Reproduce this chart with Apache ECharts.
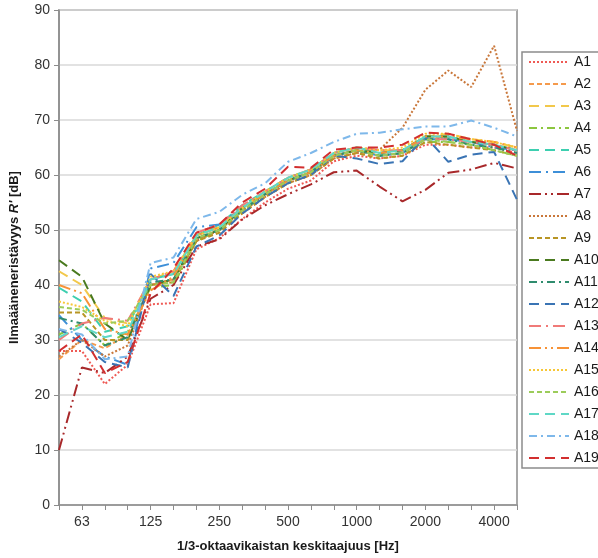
<!DOCTYPE html>
<html>
<head>
<meta charset="utf-8">
<script src="https://cdn.jsdelivr.net/npm/echarts@6/dist/echarts.min.js"></script>
<style>
  html, body { margin: 0; padding: 0; background: #fff; }
  #chart { width: 598px; height: 558px; }
</style>
</head>
<body>
<div id="chart"></div>
<script>
// 1/3-octave band centre frequencies [Hz]
const bands = ['50', '63', '80', '100', '125', '160', '200', '250', '315', '400', '500',
  '630', '800', '1000', '1250', '1600', '2000', '2500', '3150', '4000', '5000'];

// R' [dB] per measurement
const A1 = [28, 28, 22, 25.5, 36.5, 36.7, 46.5, 48.5, 52, 55, 57.5, 59, 62.5, 63.5, 63, 63.5, 65.5, 65.5, 65, 65, 64];
const A2 = [26.5, 30, 28.5, 31, 40, 41, 48, 50, 53, 56, 58.5, 60, 63, 64, 63.5, 64, 66.5, 67, 66, 65.5, 64.5];
const A3 = [42.5, 40, 34, 33, 41, 42.5, 49, 50.5, 54, 57, 59.5, 61, 64, 65, 64.5, 64.5, 67, 67.5, 66.5, 66, 65];
const A4 = [31, 33, 29, 31.5, 39.5, 40, 48, 50, 53.5, 56.5, 59, 60.5, 63.5, 64.5, 63.5, 64, 66, 66, 65.5, 64.5, 63.5];
const A5 = [39.5, 37, 31.5, 32.5, 41, 42, 49, 51, 54.5, 57, 59.5, 61, 64, 65, 64, 64.5, 67, 67, 66, 65.5, 64.5];
const A6 = [34.5, 30, 27, 25.5, 43, 44, 50.5, 51, 54, 56.5, 59, 60.5, 63.5, 64.5, 63.5, 64, 66.5, 66.5, 66, 65, 64.5];
const A7 = [10, 25, 24, 27, 37.5, 40, 47, 48.3, 51.9, 54.5, 56.5, 58.3, 60.5, 60.8, 57.9, 55.2, 57.3, 60.4, 61, 62.2, 61.2];
const A8 = [27, 30, 27, 29, 40, 41, 48, 50, 53.5, 56, 58.5, 60, 63, 64, 64.6, 68.6, 75.5, 79, 76, 83.5, 68];
const A9 = [35, 35, 30, 30, 40, 40.5, 48, 49.5, 53, 56, 58.5, 60, 63, 64, 63, 63.5, 66, 65.5, 65, 64.5, 63.5];
const A10 = [44.5, 41.5, 33, 30, 40, 41, 48.5, 50, 54, 56.5, 59, 60.5, 63.5, 64.5, 64, 64.5, 67, 67, 66, 65.5, 64.5];
const A11 = [34, 33, 29, 30.5, 40.5, 41, 48.5, 50, 53.5, 56.5, 59, 60.5, 63.5, 64.5, 63.5, 64, 66.5, 66.5, 65.5, 65, 64];
const A12 = [32, 29.5, 26, 25, 42, 38, 47, 49, 53, 56, 58.5, 60, 63.5, 63, 62, 62.5, 67, 62.4, 63.7, 64.2, 55.5];
const A13 = [30, 33, 34, 33.5, 41, 42.5, 49.5, 51, 54.5, 57, 59.5, 61, 64, 65, 64.5, 64.5, 66.5, 66.5, 66, 65.5, 64.5];
const A14 = [40, 38.5, 32, 31, 39, 41.5, 49, 50.5, 54, 56.5, 59, 60.5, 63.5, 64.5, 64, 64.5, 67, 67, 66.5, 66, 65];
const A15 = [37, 36, 33.5, 32.5, 41.5, 42.5, 49, 50.5, 54, 57, 59.5, 61, 64, 65, 64.5, 65, 67.5, 67.5, 66.5, 66, 65];
const A16 = [36, 35.5, 33, 33.5, 40, 40.5, 48.5, 50, 53.5, 56.5, 59, 60.5, 63.5, 64.5, 63.5, 64, 66.5, 66, 65.5, 64.5, 63.5];
const A17 = [30.5, 32.5, 30.5, 31.5, 41, 42, 49, 50.5, 54, 57, 59.5, 61, 64, 65, 64, 64.5, 67, 67, 66, 65.5, 64.5];
const A18 = [32, 31, 26.5, 27, 44, 45, 52, 53.3, 56.4, 58.5, 62.4, 64, 66, 67.5, 67.7, 68.3, 68.8, 68.8, 69.9, 68.6, 67];
const A19 = [28, 31, 24, 26, 38.5, 43, 49.5, 51, 55, 57.5, 61.5, 61.3, 64.6, 65, 65, 65.5, 67.7, 67.5, 66.5, 65.5, 63.5];

const names = ['A1', 'A2', 'A3', 'A4', 'A5', 'A6', 'A7', 'A8', 'A9', 'A10',
  'A11', 'A12', 'A13', 'A14', 'A15', 'A16', 'A17', 'A18', 'A19'];
const values = [A1, A2, A3, A4, A5, A6, A7, A8, A9, A10, A11, A12, A13, A14, A15, A16, A17, A18, A19];

// line styles, Excel-like
const DOT = [2, 2], DASH = [5, 3], LDASH = [10, 6], DASHDOT = [8, 4, 2, 4],
  LDASHDOT = [12, 5, 2, 5], LDASHDOTDOT = [12, 4, 2, 4, 2, 4];
const colors = ['#ef5a55', '#f59a4c', '#f2c84b', '#8cc63f', '#3dcfb0', '#3d8fd8', '#a8282a',
  '#c9773a', '#b89524', '#4a7a1f', '#2f8c6e', '#3a74b4', '#f07a78', '#f79236', '#f7c736',
  '#9ccc5a', '#5fd8c6', '#7eb8ea', '#d22f2f'];
const dashes = [DOT, DASH, LDASH, DASHDOT, LDASH, LDASHDOT, LDASHDOTDOT, DOT, DASH, LDASH,
  DASHDOT, LDASH, LDASHDOT, LDASHDOTDOT, DOT, DASH, LDASH, DASHDOT, LDASH];

const chart = echarts.init(document.getElementById('chart'));
const FONT = '"Liberation Sans", Arial, sans-serif';

chart.setOption({
  animation: false,
  textStyle: { fontFamily: FONT },
  grid: {
    left: 57, right: 81, top: 10, bottom: 52,
    show: true, borderColor: '#8c8c8c', borderWidth: 1.5
  },
  legend: {
    orient: 'vertical',
    left: 522, top: 52,
    padding: [3, 30, 3, 6],
    itemWidth: 40, itemHeight: 14, itemGap: 8,
    borderColor: '#8c8c8c', borderWidth: 1.5,
    itemStyle: { opacity: 0 },
    textStyle: { fontSize: 14, color: '#1a1a1a', fontFamily: FONT },
    data: names
  },
  xAxis: {
    type: 'category',
    data: bands,
    boundaryGap: false,
    name: '1/3-oktaavikaistan keskitaajuus [Hz]',
    nameLocation: 'middle',
    nameGap: 35,
    nameTextStyle: { fontSize: 13, fontWeight: 'bold', color: '#1a1a1a' },
    axisLine: { lineStyle: { color: '#8c8c8c', width: 1.5 } },
    axisTick: { show: true, interval: 0, length: 5, lineStyle: { color: '#8c8c8c' } },
    axisLabel: {
      interval: (i) => i % 3 === 1,
      fontSize: 14, color: '#333', margin: 10
    },
    splitLine: { show: false }
  },
  yAxis: {
    type: 'value',
    min: 0, max: 90, interval: 10,
    name: "{n|Ilmaääneneristävyys }{i|R'}{n| [dB]}",
    nameLocation: 'middle',
    nameRotate: 90,
    nameGap: 38,
    nameTextStyle: {
      rich: {
        n: { fontSize: 13, fontWeight: 'bold', color: '#1a1a1a', fontFamily: FONT },
        i: { fontSize: 13, fontWeight: 'bold', fontStyle: 'italic', color: '#1a1a1a', fontFamily: FONT }
      }
    },
    axisLine: { show: true, lineStyle: { color: '#8c8c8c', width: 1.5 } },
    axisTick: { show: true, length: 5, lineStyle: { color: '#8c8c8c' } },
    axisLabel: { fontSize: 14, color: '#333', margin: 9 },
    splitLine: { lineStyle: { color: '#d9d9d9', width: 1.5 } }
  },
  series: names.map((n, k) => ({
    name: n,
    type: 'line',
    data: values[k],
    symbol: 'none',
    color: colors[k],
    lineStyle: { width: 2, color: colors[k], type: dashes[k] }
  }))
});
</script>
</body>
</html>
